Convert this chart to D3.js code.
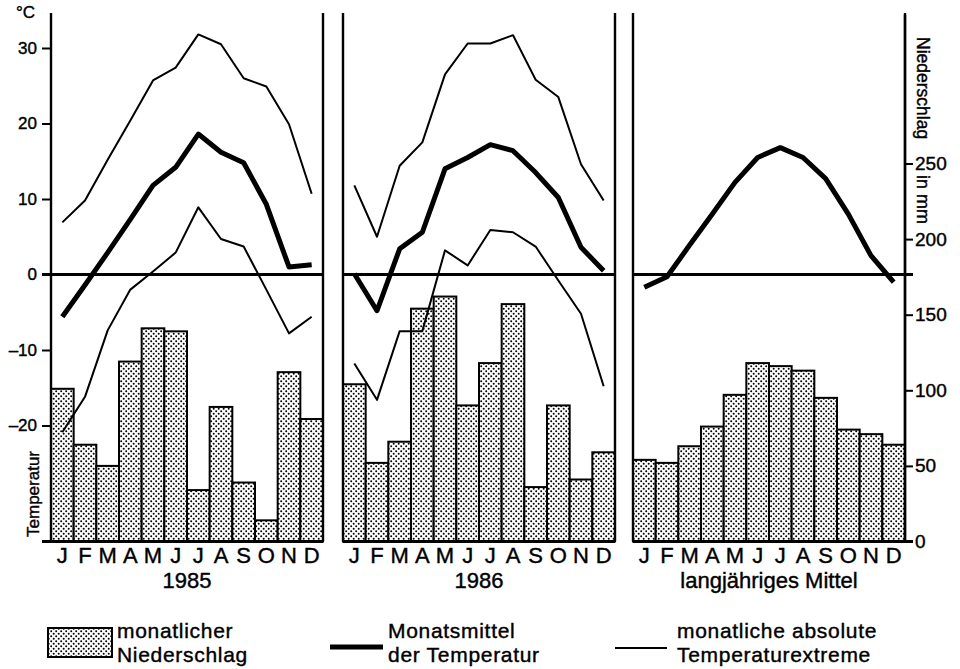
<!DOCTYPE html>
<html>
<head>
<meta charset="utf-8">
<script src="https://d3js.org/d3.v7.min.js"></script>
<style>
body{margin:0;background:#fff;}
svg text{font-family:"Liberation Sans", Arial, Helvetica, sans-serif; fill:#000; stroke:#000; stroke-width:0.4px;}
</style>
</head>
<body>
<svg id="chart" width="960" height="669"></svg>
<script>
//Data
var months = ['J','F','M','A','M','J','J','A','S','O','N','D'];

var precip1985 = [101, 64, 50, 119, 141, 139, 34, 89, 39, 14, 112, 81];
var tMean1985  = [-5.6, -1.4, 2.9, 7.3, 11.8, 14.2, 18.6, 16.2, 14.8, 9.3, 1.0, 1.3];
var tMax1985   = [6.9, 9.8, 15.2, 20.4, 25.7, 27.4, 31.8, 30.5, 26.0, 24.9, 19.9, 10.7];
var tMin1985   = [-20.9, -16.2, -7.4, -2.0, 0.4, 2.9, 8.9, 4.7, 3.7, -2.0, -7.8, -5.6];

var precip1986 = [104, 52, 66, 154, 162, 90, 118, 157, 36, 90, 41, 59];
var tMean1986  = [0.1, -4.8, 3.4, 5.6, 14.0, 15.5, 17.2, 16.4, 13.5, 10.2, 3.6, 0.5];
var tMax1986   = [11.8, 5.0, 14.4, 17.5, 26.5, 30.6, 30.6, 31.7, 25.8, 23.5, 14.6, 9.8];
var tMin1986   = [-11.8, -16.6, -7.5, -7.5, 3.2, 1.2, 5.9, 5.6, 3.7, -0.8, -5.2, -14.8];

var precipMittel = [54, 52, 63, 76, 97, 118, 116, 113, 95, 74, 71, 64];
var tMeanMittel  = [-1.7, -0.3, 3.9, 8.0, 12.2, 15.5, 16.8, 15.5, 12.7, 8.0, 2.5, -1.0];

var tempTicks = [-20, -10, 0, 10, 20, 30];
var precipTicks = [0, 50, 100, 150, 200, 250];
var panelLabels = ['1985', '1986', 'langjähriges Mittel'];

var svg = d3.select('#chart');

//dotted fill for the bars
var pat = svg.append('defs').append('pattern')
	.attr('id', 'dots')
	.attr('patternUnits', 'userSpaceOnUse')
	.attr('width', 5).attr('height', 5);
pat.append('rect').attr('width', 5).attr('height', 5).attr('fill', '#fff');
pat.append('circle').attr('cx', 1.2).attr('cy', 1.2).attr('r', 1).attr('fill', '#000');
pat.append('circle').attr('cx', 3.7).attr('cy', 3.7).attr('r', 1).attr('fill', '#000');

//Scales shared by the three panels
var tScale = d3.scaleLinear().domain([-20, 30]).range([425.5, 48]);
var pScale = d3.scaleLinear().domain([0, 250]).range([541.5, 163.5]);
var yTop = 13, yBottom = pScale(0);

function drawPanel(x0, x1, precip, tMean, tMax, tMin, label, zeroFrom, zeroTo){
	var xScale = d3.scaleBand().domain(d3.range(12)).range([x0, x1]);
	var bw = xScale.bandwidth();
	var g = svg.append('g');

	//precipitation bars
	g.selectAll('rect.bar').data(precip).enter().append('rect')
		.attr('class', 'bar')
		.attr('x', function(d, i){ return xScale(i); })
		.attr('y', function(d){ return pScale(d); })
		.attr('width', bw)
		.attr('height', function(d){ return pScale(0) - pScale(d); })
		.attr('fill', 'url(#dots)')
		.attr('stroke', '#000')
		.attr('stroke-width', 2);

	//frame (no top line)
	g.append('line').attr('x1', x0).attr('x2', x0).attr('y1', yTop).attr('y2', yBottom)
		.attr('stroke', '#000').attr('stroke-width', 2.4);
	g.append('line').attr('x1', x1).attr('x2', x1).attr('y1', yTop).attr('y2', yBottom)
		.attr('stroke', '#000').attr('stroke-width', 2.4);
	g.append('line').attr('x1', zeroFrom).attr('x2', zeroTo).attr('y1', yBottom).attr('y2', yBottom)
		.attr('stroke', '#000').attr('stroke-width', 3);

	//0 degree line
	g.append('line').attr('x1', zeroFrom).attr('x2', zeroTo).attr('y1', tScale(0)).attr('y2', tScale(0))
		.attr('stroke', '#000').attr('stroke-width', 3);

	var line = d3.line()
		.x(function(d, i){ return xScale(i) + bw / 2; })
		.y(function(d){ return tScale(d); });

	if(tMax) g.append('path').attr('d', line(tMax)).attr('fill', 'none')
		.attr('stroke', '#000').attr('stroke-width', 2).attr('stroke-linejoin', 'round');
	if(tMin) g.append('path').attr('d', line(tMin)).attr('fill', 'none')
		.attr('stroke', '#000').attr('stroke-width', 2).attr('stroke-linejoin', 'round');
	g.append('path').attr('d', line(tMean)).attr('fill', 'none')
		.attr('stroke', '#000').attr('stroke-width', 5).attr('stroke-linejoin', 'round');

	//month letters
	g.selectAll('text.month').data(months).enter().append('text')
		.attr('class', 'month')
		.attr('x', function(d, i){ return xScale(i) + bw / 2; })
		.attr('y', 563)
		.attr('text-anchor', 'middle')
		.style('font-size', '22px')
		.text(function(d){ return d; });

	g.append('text')
		.attr('x', (x0 + x1) / 2)
		.attr('y', 588)
		.attr('text-anchor', 'middle')
		.style('font-size', '22px')
		.text(label);
}

drawPanel(51, 323, precip1985, tMean1985, tMax1985, tMin1985, panelLabels[0], 42, 323);
drawPanel(343, 615, precip1986, tMean1986, tMax1986, tMin1986, panelLabels[1], 343, 615);
drawPanel(633, 905, precipMittel, tMeanMittel, null, null, panelLabels[2], 633, 913);

//Left temperature axis
var axL = svg.append('g').attr('transform', 'translate(51,0)')
	.call(d3.axisLeft(tScale).tickValues(tempTicks).tickSize(9).tickPadding(5)
		.tickFormat(function(d){ return d < 0 ? '\u2013' + Math.abs(d) : d; }));
axL.select('.domain').remove();
axL.selectAll('line').attr('stroke', '#000').attr('stroke-width', 2);
axL.selectAll('text').attr('font-family', null).style('font-size', '17px');

//Right precipitation axis
var axR = svg.append('g').attr('transform', 'translate(905,0)')
	.call(d3.axisRight(pScale).tickValues(precipTicks).tickSize(8).tickPadding(2));
axR.select('.domain').remove();
axR.selectAll('line').attr('stroke', '#000').attr('stroke-width', 2);
axR.selectAll('text').attr('font-family', null).style('font-size', '19px');
svg.append('line').attr('x1', 905).attr('x2', 905).attr('y1', 15).attr('y2', yBottom + 1)
	.attr('stroke', '#000').attr('stroke-width', 2.4);

//Axis titles
svg.append('text').attr('x', 16).attr('y', 18).style('font-size', '17px').text('°C');
svg.append('text').attr('transform', 'translate(39,494) rotate(-90)')
	.attr('text-anchor', 'middle').style('font-size', '17px').text('Temperatur');
svg.append('text').attr('transform', 'translate(917,37) rotate(90)')
	.style('font-size', '17.5px').text('Niederschlag');
svg.append('text').attr('transform', 'translate(917,175) rotate(90)')
	.style('font-size', '18px').text('in mm');

//Legend
var leg = svg.append('g');
leg.append('rect').attr('x', 48).attr('y', 628).attr('width', 64).attr('height', 29)
	.attr('fill', 'url(#dots)').attr('stroke', '#000').attr('stroke-width', 2);
leg.append('line').attr('x1', 330).attr('x2', 383).attr('y1', 647).attr('y2', 647)
	.attr('stroke', '#000').attr('stroke-width', 5);
leg.append('line').attr('x1', 615).attr('x2', 667).attr('y1', 648).attr('y2', 648)
	.attr('stroke', '#000').attr('stroke-width', 2);

var legText = [
	{x: 117, l1: 'monatlicher', l2: 'Niederschlag'},
	{x: 388, l1: 'Monatsmittel', l2: 'der Temperatur'},
	{x: 677, l1: 'monatliche absolute', l2: 'Temperaturextreme'}
];
legText.forEach(function(d){
	leg.append('text').attr('x', d.x).attr('y', 638).style('font-size', '21px').style('letter-spacing', '0.7px').text(d.l1);
	leg.append('text').attr('x', d.x).attr('y', 662).style('font-size', '21px').style('letter-spacing', '0.7px').text(d.l2);
});
</script>
</body>
</html>
